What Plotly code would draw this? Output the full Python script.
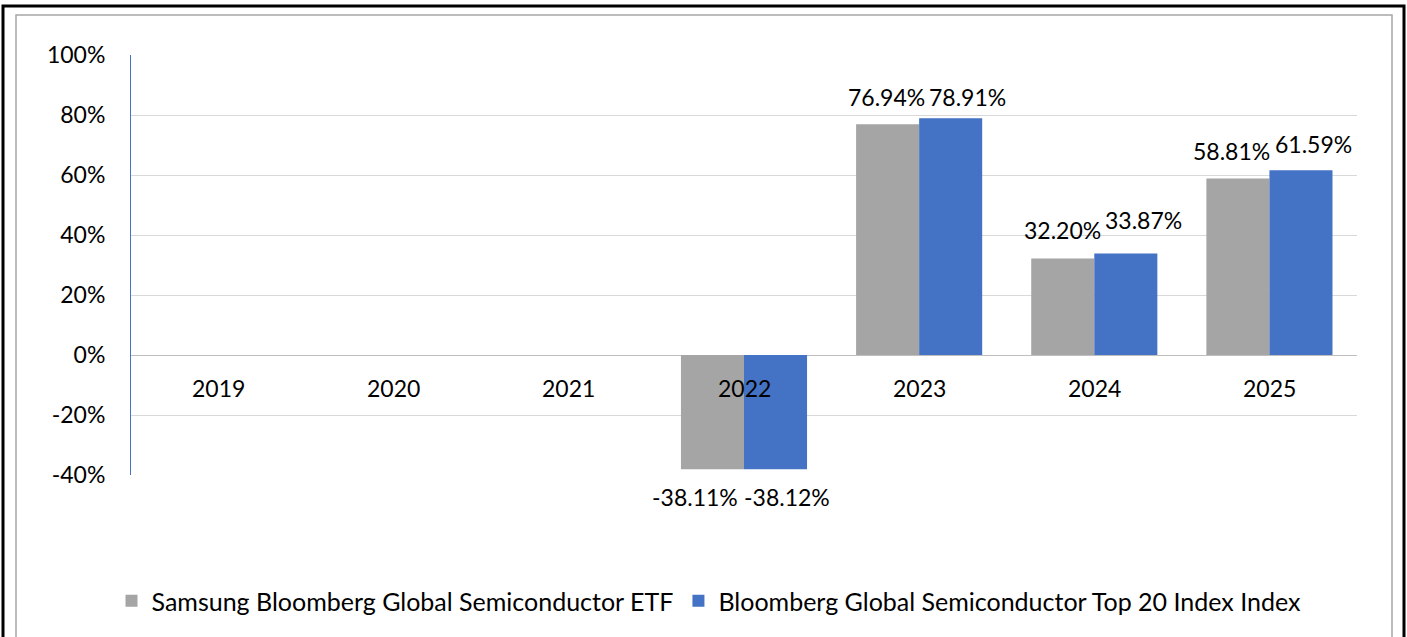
import plotly.graph_objects as go

years = ["2019", "2020", "2021", "2022", "2023", "2024", "2025"]
etf_name = "Samsung Bloomberg Global Semiconductor ETF"
idx_name = "Bloomberg Global Semiconductor Top 20 Index Index"
etf_values = [None, None, None, -38.11, 76.94, 32.20, 58.81]
idx_values = [None, None, None, -38.12, 78.91, 33.87, 61.59]
y_ticks = [-40, -20, 0, 20, 40, 60, 80, 100]
y_tick_labels = ["-40%", "-20%", "0%", "20%", "40%", "60%", "80%", "100%"]

GRAY = "#A5A5A5"
BLUE = "#4472C4"
FONT = "Lato"
FS = 23

# label placement offsets (px) relative to the bar end: (xshift, yshift)
etf_label_off = [None, None, None, (-49, -28), (-33, 27), (-32, 28), (-38, 28)]
idx_label_off = [None, None, None, (43, -28), (48, 21), (49, 33), (44, 26)]

W, H = 1407, 637
PL, PR, PT, PB = 131, 1357, 55, 475  # plot area in px

def px_x(px):
    return px / W

def px_y(py):
    return (H - py) / H

fig = go.Figure()
fig.add_trace(go.Bar(x=years, y=etf_values, name=etf_name, marker_color=GRAY,
                     marker_line_width=0))
fig.add_trace(go.Bar(x=years, y=idx_values, name=idx_name, marker_color=BLUE,
                     marker_line_width=0))

annotations = []
for i, yr in enumerate(years):
    annotations.append(dict(x=i, y=0, xref="x", yref="y", text=yr, showarrow=False,
                            yshift=-33, yanchor="middle",
                            font=dict(family=FONT, size=FS, color="#000000")))
for vals, offs in ((etf_values, etf_label_off), (idx_values, idx_label_off)):
    for i, (v, off) in enumerate(zip(vals, offs)):
        if v is None:
            continue
        annotations.append(dict(x=i, y=v, xref="x", yref="y", text=f"{v:.2f}%",
                                showarrow=False, xshift=off[0], yshift=off[1],
                                yanchor="middle", xanchor="center",
                                font=dict(family=FONT, size=FS, color="#000000")))

shapes = [
    dict(type="rect", xref="paper", yref="paper",
         x0=px_x(3), x1=px_x(1404), y0=px_y(660), y1=px_y(6),
         line=dict(color="#000000", width=3), fillcolor="rgba(0,0,0,0)", layer="below"),
    dict(type="rect", xref="paper", yref="paper",
         x0=px_x(16), x1=px_x(1392), y0=px_y(670), y1=px_y(15),
         line=dict(color="#A6A6A6", width=1.5), fillcolor="rgba(0,0,0,0)", layer="below"),
]

fig.update_layout(
    width=W, height=H,
    margin=dict(l=0, r=0, t=0, b=0, autoexpand=False),
    paper_bgcolor="white", plot_bgcolor="white",
    barmode="group", bargap=0.28, bargroupgap=0,
    font=dict(family=FONT, size=FS, color="#000000"),
    showlegend=True,
    legend=dict(orientation="h", x=px_x(709), xanchor="center", y=px_y(601),
                yanchor="middle", font=dict(family=FONT, size=25, color="#000000"),
                itemsizing="constant", traceorder="normal"),
    annotations=annotations,
    shapes=shapes,
    xaxis=dict(type="category", domain=[px_x(PL), px_x(PR)], range=[-0.5, len(years) - 0.5],
               showticklabels=False, showgrid=False, zeroline=False, showline=False,
               ticks="", automargin=False),
    yaxis=dict(domain=[px_y(PB), px_y(PT)], range=[-40, 100],
               tickmode="array", tickvals=y_ticks, ticktext=y_tick_labels,
               showgrid=True, gridcolor="#D9D9D9", gridwidth=1,
               zeroline=True, zerolinecolor="#BFBFBF", zerolinewidth=1,
               showline=True, linecolor=BLUE, linewidth=1,
               ticks="", ticklabelstandoff=20, automargin=False,
               tickfont=dict(family=FONT, size=FS, color="#000000")),
)

fig.write_html("out.html", config={"displayModeBar": False},
               post_script="document.body.style.margin='0px';")
